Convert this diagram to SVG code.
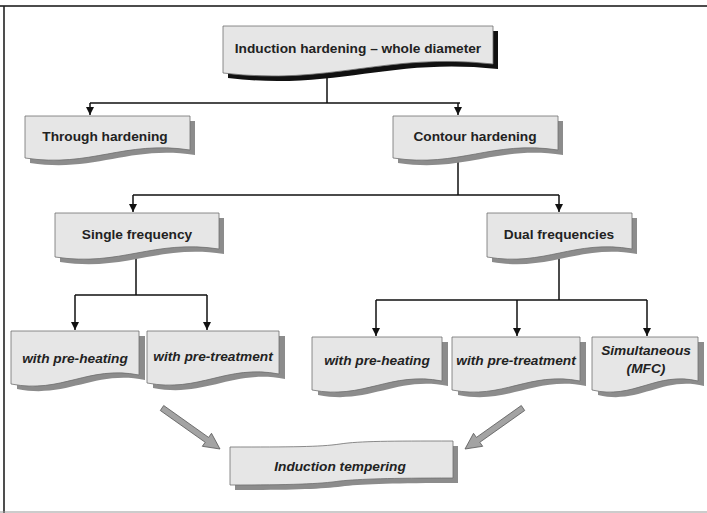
<svg xmlns="http://www.w3.org/2000/svg" width="707" height="513" viewBox="0 0 707 513">
<defs>
<style>
.box{fill:#e6e6e6;stroke:#6e6e6e;stroke-width:0.8}
.sh{fill:#8c8c8c}
.shd{fill:#111}
.t{font-family:"Liberation Sans",Arial,sans-serif;font-size:13.7px;font-weight:bold;fill:#222;text-anchor:middle}
.ti{font-style:italic}
.c{fill:none;stroke:#111;stroke-width:1.5}
.ga{fill:#a3a3a3;stroke:#555;stroke-width:0.8}
</style>
<marker id="ah" viewBox="0 0 10 10" refX="10" refY="5" markerWidth="8" markerHeight="8" markerUnits="userSpaceOnUse" orient="auto">
<path d="M0,0 L10,5 L0,10 Z" fill="#111"/>
</marker>
</defs>
<rect width="707" height="513" fill="#fff"/>
<g id="frame">
<line x1="0" y1="6" x2="707" y2="6" stroke="#111" stroke-width="1.6"/>
<line x1="4" y1="6" x2="4" y2="513" stroke="#222" stroke-width="1.6"/>
<line x1="0" y1="512" x2="707" y2="512" stroke="#999" stroke-width="1.2"/>
</g>
<g id="connectors">
<path class="c" d="M327,74 V103 M90,103 H460"/>
<path class="c" d="M90,103 V115" marker-end="url(#ah)"/>
<path class="c" d="M458,103 V115" marker-end="url(#ah)"/>
<path class="c" d="M458,152 V195 M133,195 H559"/>
<path class="c" d="M133,195 V212" marker-end="url(#ah)"/>
<path class="c" d="M559,195 V212" marker-end="url(#ah)"/>
<path class="c" d="M136,253 V295 M75,295 H207"/>
<path class="c" d="M75,295 V330" marker-end="url(#ah)"/>
<path class="c" d="M207,295 V330" marker-end="url(#ah)"/>
<path class="c" d="M559,252 V300 M376,300 H647"/>
<path class="c" d="M376,300 V336" marker-end="url(#ah)"/>
<path class="c" d="M517,300 V336" marker-end="url(#ah)"/>
<path class="c" d="M647,300 V336" marker-end="url(#ah)"/>
<polygon class="ga" points="163.7,405.5 208.6,437.4 211.5,433.3 220,449 202.3,446.3 205.2,442.3 160.3,410.5"/>
<polygon class="ga" points="521.3,405.5 476.4,437.4 473.5,433.3 465,449 482.7,446.3 479.8,442.3 524.7,410.5"/>
</g>
<g id="n-top">
<path class="shd" transform="translate(5,5)" d="M223,26 H493 V64 C385,52 331,86 223,73 Z"/>
<path class="box" d="M223,26 H493 V64 C385,52 331,86 223,73 Z"/>
<text class="t" x="358" y="53">Induction hardening – whole diameter</text>
</g>
<g id="n-through">
<path class="sh" transform="translate(5,5)" d="M25,116 H190 V150 C124,140 91,168 25,158 Z"/>
<path class="box" d="M25,116 H190 V150 C124,140 91,168 25,158 Z"/>
<text class="t" x="105" y="141">Through hardening</text>
</g>
<g id="n-contour">
<path class="sh" transform="translate(5,5)" d="M393,116 H558 V150 C492,140 459,168 393,158 Z"/>
<path class="box" d="M393,116 H558 V150 C492,140 459,168 393,158 Z"/>
<text class="t" x="475" y="141">Contour hardening</text>
</g>
<g id="n-single">
<path class="sh" transform="translate(5,5)" d="M55,213 H219 V249 C153,239 121,267 55,257 Z"/>
<path class="box" d="M55,213 H219 V249 C153,239 121,267 55,257 Z"/>
<text class="t" x="137" y="239">Single frequency</text>
</g>
<g id="n-dual">
<path class="sh" transform="translate(5,5)" d="M487,213 H632 V249 C574,239 545,267 487,257 Z"/>
<path class="box" d="M487,213 H632 V249 C574,239 545,267 487,257 Z"/>
<text class="t" x="559" y="239">Dual frequencies</text>
</g>
<g id="n-sf-preheat">
<path class="sh" transform="translate(6,5)" d="M11,331 H139 V375 C88,365 62,394 11,384 Z"/>
<path class="box" d="M11,331 H139 V375 C88,365 62,394 11,384 Z"/>
<text class="t ti" x="75" y="363">with pre-heating</text>
</g>
<g id="n-sf-pretreat">
<path class="sh" transform="translate(6,5)" d="M147,331 H279 V374 C226,364 200,393 147,383 Z"/>
<path class="box" d="M147,331 H279 V374 C226,364 200,393 147,383 Z"/>
<text class="t ti" x="213" y="361">with pre-treatment</text>
</g>
<g id="n-df-preheat">
<path class="sh" transform="translate(6,5)" d="M312,337 H442 V381 C390,371 364,400 312,390 Z"/>
<path class="box" d="M312,337 H442 V381 C390,371 364,400 312,390 Z"/>
<text class="t ti" x="377" y="365">with pre-heating</text>
</g>
<g id="n-df-pretreat">
<path class="sh" transform="translate(6,5)" d="M452,337 H580 V381 C529,371 503,400 452,390 Z"/>
<path class="box" d="M452,337 H580 V381 C529,371 503,400 452,390 Z"/>
<text class="t ti" x="516" y="365">with pre-treatment</text>
</g>
<g id="n-simul">
<path class="sh" transform="translate(6,5)" d="M592,337 H698 V381 C656,371 634,400 592,390 Z"/>
<path class="box" d="M592,337 H698 V381 C656,371 634,400 592,390 Z"/>
<text class="t ti" x="646" y="355">Simultaneous</text>
<text class="t ti" x="646" y="373">(MFC)</text>
</g>
<g id="n-tempering">
<path class="sh" transform="translate(5,5)" d="M230,447 C290,447 320,447 340,444 C360,441 390,441 453,441 V478 C390,478 360,479 340,481 C320,484 290,485 230,485 Z"/>
<path class="box" d="M230,447 C290,447 320,447 340,444 C360,441 390,441 453,441 V478 C390,478 360,479 340,481 C320,484 290,485 230,485 Z"/>
<text class="t ti" x="340" y="471">Induction tempering</text>
</g>
</svg>
